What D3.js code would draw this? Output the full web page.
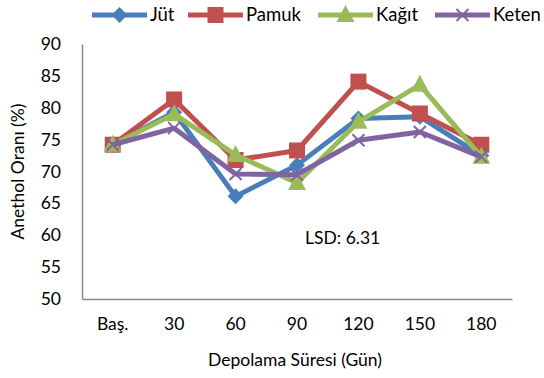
<!DOCTYPE html>
<html><head><meta charset="utf-8">
<script src="https://cdn.jsdelivr.net/npm/d3@7"></script>
<style>body{margin:0;background:#fff;} text{font-family:Lato,"Open Sans",sans-serif;fill:#000;}</style>
</head><body>
<svg id="c" width="544" height="378"></svg>
<script>
const categories = ["Baş.", "30", "60", "90", "120", "150", "180"];
const seriesNames = ["Jüt", "Pamuk", "Kağıt", "Keten"];
const jut   = [74.2, 79.3, 66.1, 71.0, 78.3, 78.6, 72.5];
const pamuk = [74.2, 81.3, 71.8, 73.3, 84.1, 79.1, 74.2];
const kagit = [74.2, 79.0, 72.6, 68.2, 77.8, 83.6, 72.3];
const keten = [74.2, 76.8, 69.6, 69.5, 74.9, 76.2, 72.3];
const yTicks = [50, 55, 60, 65, 70, 75, 80, 85, 90];
const colors = ["#4A7EBB", "#C0504D", "#9BBB59", "#8064A2"];
const markers = ["diamond", "square", "triangle", "cross"];
const seriesValues = [jut, pamuk, kagit, keten];

const svg = d3.select("#c");
const mLeft = 82, mRight = 512, mTop = 44, mBottom = 299;
const x = d3.scaleBand().domain(categories).range([mLeft, mRight]);
const y = d3.scaleLinear().domain([50, 90]).range([mBottom, mTop]);
const FS = 17.5;

// axes
const xAxis = svg.append("g").attr("transform", `translate(0,${mBottom})`)
  .call(d3.axisBottom(x).tickSize(0).tickPadding(19));
xAxis.select(".domain").attr("stroke", "#888").attr("stroke-width", 1.5);
xAxis.selectAll("text").attr("font-size", FS).style("font-family", "Lato,'Open Sans',sans-serif");

const yAxis = svg.append("g").attr("transform", `translate(${mLeft},0)`)
  .call(d3.axisLeft(y).tickValues(yTicks).tickSize(0).tickPadding(21));
yAxis.select(".domain").attr("stroke", "#888").attr("stroke-width", 1.5);
yAxis.selectAll("text").attr("font-size", FS).style("font-family", "Lato,'Open Sans',sans-serif");

function markerPath(type, cx, cy, g, color) {
  if (type === "diamond") {
    g.append("path").attr("d", `M${cx},${cy-8}L${cx+8},${cy}L${cx},${cy+8}L${cx-8},${cy}Z`).attr("fill", color);
  } else if (type === "square") {
    g.append("rect").attr("x", cx - 8).attr("y", cy - 8).attr("width", 16).attr("height", 16).attr("fill", color);
  } else if (type === "triangle") {
    g.append("path").attr("d", `M${cx},${cy-10}L${cx+9},${cy+7}L${cx-9},${cy+7}Z`).attr("fill", color);
  } else {
    g.append("path").attr("d", `M${cx-6},${cy-6}L${cx+6},${cy+6}M${cx+6},${cy-6}L${cx-6},${cy+6}`)
      .attr("stroke", color).attr("stroke-width", 2);
  }
}

const line = d3.line().x((d, i) => x(categories[i]) + x.bandwidth() / 2).y(d => y(d));
seriesValues.forEach((vals, si) => {
  const g = svg.append("g");
  g.append("path").datum(vals).attr("d", line).attr("fill", "none")
    .attr("stroke", colors[si]).attr("stroke-width", 5).attr("stroke-linejoin", "round");
  vals.forEach((v, i) => markerPath(markers[si], x(categories[i]) + x.bandwidth() / 2, y(v), g, colors[si]));
});

// legend
const legX = [92, 188, 318, 435];
seriesNames.forEach((n, i) => {
  const g = svg.append("g");
  g.append("line").attr("x1", legX[i]).attr("x2", legX[i] + 55).attr("y1", 15).attr("y2", 15)
    .attr("stroke", colors[i]).attr("stroke-width", 5);
  markerPath(markers[i], legX[i] + 27.5, 15, g, colors[i]);
  g.append("text").attr("x", legX[i] + 58).attr("y", 21).attr("font-size", 18.5).text(n);
});

// annotation
svg.append("text").attr("x", 305).attr("y", 244).attr("font-size", FS).text("LSD: 6.31");

// axis titles
svg.append("text").attr("x", (mLeft + mRight) / 2 - 2).attr("y", 366).attr("text-anchor", "middle")
  .attr("font-size", FS).text("Depolama Süresi (Gün)");
svg.append("text").attr("transform", `translate(24,${(mTop + mBottom) / 2}) rotate(-90)`)
  .attr("text-anchor", "middle").attr("font-size", FS).text("Anethol Oranı (%)");
</script>
</body></html>
